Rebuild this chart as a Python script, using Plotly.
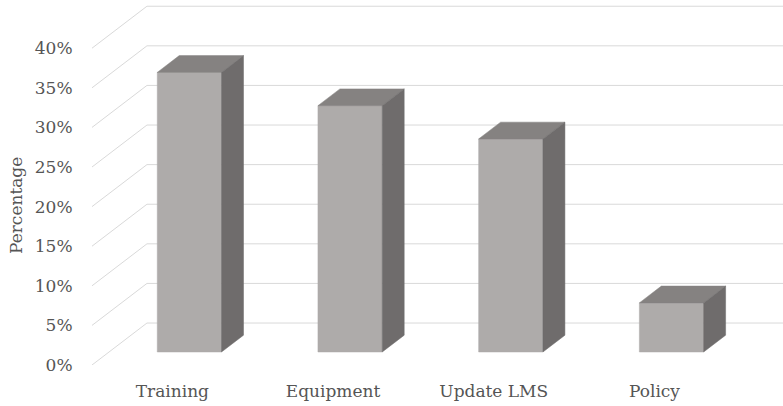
import plotly.graph_objects as go

categories = ["Training", "Equipment", "Update LMS", "Policy"]
values = [35.3, 31.1, 26.9, 6.2]
tick_values = [0, 5, 10, 15, 20, 25, 30, 35, 40]
tick_labels = ["0%", "5%", "10%", "15%", "20%", "25%", "30%", "35%", "40%"]
axis_title = "Percentage"

# oblique "3D" projection parameters (data units)
DX = 0.342      # depth shift along category axis
DY = 5.3        # depth shift along value axis
D_FRONT, D_BACK = 0.31, 0.71
HALF = 0.2      # half bar width (category units)

FRONT_COL = "#AEABAA"
TOP_COL = "#858281"
SIDE_COL = "#6F6C6C"
GRID_COL = "#D9D9D9"
TEXT_COL = "#555555"
FONT = "DejaVu Serif"


def proj(c, v, d):
    return c + d * DX, v + d * DY


fig = go.Figure()

# gridlines: left side wall diagonals + back wall horizontals
gx, gy = [], []
for t in tick_values:
    for (c, d) in [(-0.5, 0), (-0.5, 1), (3.7, 1)]:
        x, y = proj(c, t, d)
        gx.append(x)
        gy.append(y)
    gx.append(None)
    gy.append(None)
fig.add_trace(go.Scatter(x=gx, y=gy, mode="lines",
                         line=dict(color=GRID_COL, width=1),
                         hoverinfo="skip", showlegend=False))


def face(pts, color):
    xs, ys = [], []
    for c, v, d in pts:
        x, y = proj(c, v, d)
        xs.append(x)
        ys.append(y)
    xs.append(xs[0])
    ys.append(ys[0])
    fig.add_trace(go.Scatter(x=xs, y=ys, mode="lines", fill="toself",
                             fillcolor=color, line=dict(color=color, width=0.5),
                             hoverinfo="skip", showlegend=False))


for i, v in enumerate(values):
    l, r = i - HALF, i + HALF
    face([(l, 0, D_FRONT), (r, 0, D_FRONT), (r, v, D_FRONT), (l, v, D_FRONT)], FRONT_COL)
    face([(l, v, D_FRONT), (r, v, D_FRONT), (r, v, D_BACK), (l, v, D_BACK)], TOP_COL)
    face([(r, 0, D_FRONT), (r, 0, D_BACK), (r, v, D_BACK), (r, v, D_FRONT)], SIDE_COL)

W, H = 783, 406
ml, mr, mt, mb = 92, 0, 4, 41
px_per_cat = 160.7
px_per_pct = 7.92
plot_w, plot_h = W - ml - mr, H - mt - mb
x_range = [-0.5, -0.5 + plot_w / px_per_cat]
y_range = [0, plot_h / px_per_pct]

fig.add_annotation(text=axis_title, xref="paper", yref="paper",
                   x=(16 - ml) / plot_w, y=(H - mb - 206) / plot_h,
                   xanchor="center", yanchor="middle", textangle=-90, showarrow=False,
                   font=dict(family=FONT, size=17, color=TEXT_COL))

fig.update_layout(
    width=W, height=H,
    margin=dict(l=ml, r=mr, t=mt, b=mb, pad=0),
    paper_bgcolor="white", plot_bgcolor="white",
    font=dict(family=FONT, size=17, color=TEXT_COL),
    showlegend=False,
    xaxis=dict(range=x_range, tickmode="array", tickvals=list(range(len(categories))),
               ticktext=categories, showgrid=False, zeroline=False, showline=False,
               ticks="outside", ticklen=11, tickcolor="rgba(0,0,0,0)",
               tickfont=dict(family=FONT, size=17, color=TEXT_COL), fixedrange=True),
    yaxis=dict(range=y_range, tickmode="array", tickvals=tick_values, ticktext=tick_labels,
               showgrid=False, zeroline=False, showline=False,
               ticks="outside", ticklen=15, tickcolor="rgba(0,0,0,0)",
               tickfont=dict(family=FONT, size=17, color=TEXT_COL),
               fixedrange=True),
)

fig.write_html("out.html")
